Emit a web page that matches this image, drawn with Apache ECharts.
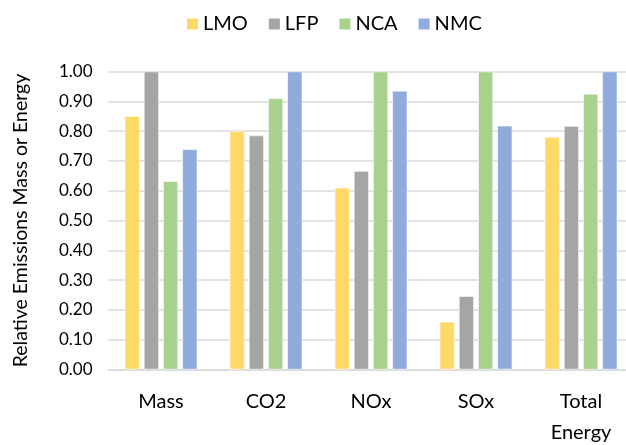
<!DOCTYPE html>
<html>
<head>
<meta charset="utf-8">
<script src="https://cdn.jsdelivr.net/npm/echarts@6/dist/echarts.min.js"></script>
<style>
  html, body { margin: 0; padding: 0; background: #fff; }
  #chart { width: 626px; height: 445px; }
</style>
</head>
<body>
<div id="chart"></div>
<script>
// Relative emissions by battery chemistry
const categories = ['Mass', 'CO2', 'NOx', 'SOx', 'Total\nEnergy'];
const lmo = [0.85, 0.80, 0.61, 0.16, 0.78];
const lfp = [1.00, 0.785, 0.666, 0.246, 0.817];
const nca = [0.632, 0.91, 1.00, 1.00, 0.925];
const nmc = [0.739, 1.00, 0.935, 0.818, 1.00];
const seriesNames = ['LMO', 'LFP', 'NCA', 'NMC'];
const seriesColors = ['#FFD966', '#A5A5A5', '#A9D18E', '#8FAADC'];

const font = 'Lato, "Open Sans", sans-serif';
const chart = echarts.init(document.getElementById('chart'), null, { renderer: 'canvas' });

const values = [lmo, lfp, nca, nmc];
chart.setOption({
  animation: false,
  color: seriesColors,
  legend: {
    top: 9,
    left: 180,
    itemWidth: 13,
    itemHeight: 13,
    itemGap: 19,
    icon: 'rect',
    textStyle: { fontFamily: font, fontSize: 20, color: '#000', padding: [0, 0, 0, -1] },
    data: seriesNames
  },
  grid: { left: 108.5, top: 71.5, width: 525, height: 298, outerBoundsMode: 'none', containLabel: false },
  xAxis: {
    type: 'category',
    data: categories,
    axisLine: { lineStyle: { color: '#D9D9D9', width: 1.5 } },
    axisTick: { show: false },
    axisLabel: {
      fontFamily: font, fontSize: 20, color: '#000',
      margin: 17, lineHeight: 31
    }
  },
  yAxis: {
    type: 'value',
    min: 0,
    max: 1,
    interval: 0.1,
    name: 'Relative Emissions Mass or Energy',
    nameLocation: 'middle',
    nameRotate: 90,
    nameGap: 78,
    nameTextStyle: { fontFamily: font, fontSize: 19.5, color: '#000' },
    axisLine: { show: false },
    axisTick: { show: false },
    splitLine: { lineStyle: { color: '#D9D9D9', width: 1.5 } },
    axisLabel: {
      fontFamily: font, fontSize: 17, color: '#000', margin: 16,
      formatter: v => v.toFixed(2)
    }
  },
  series: seriesNames.map((name, i) => ({
    name,
    type: 'bar',
    data: values[i],
    barWidth: 15,
    barGap: '28%',
    itemStyle: { color: seriesColors[i], borderColor: '#fff', borderWidth: 0.6 }
  }))
});
</script>
</body>
</html>
